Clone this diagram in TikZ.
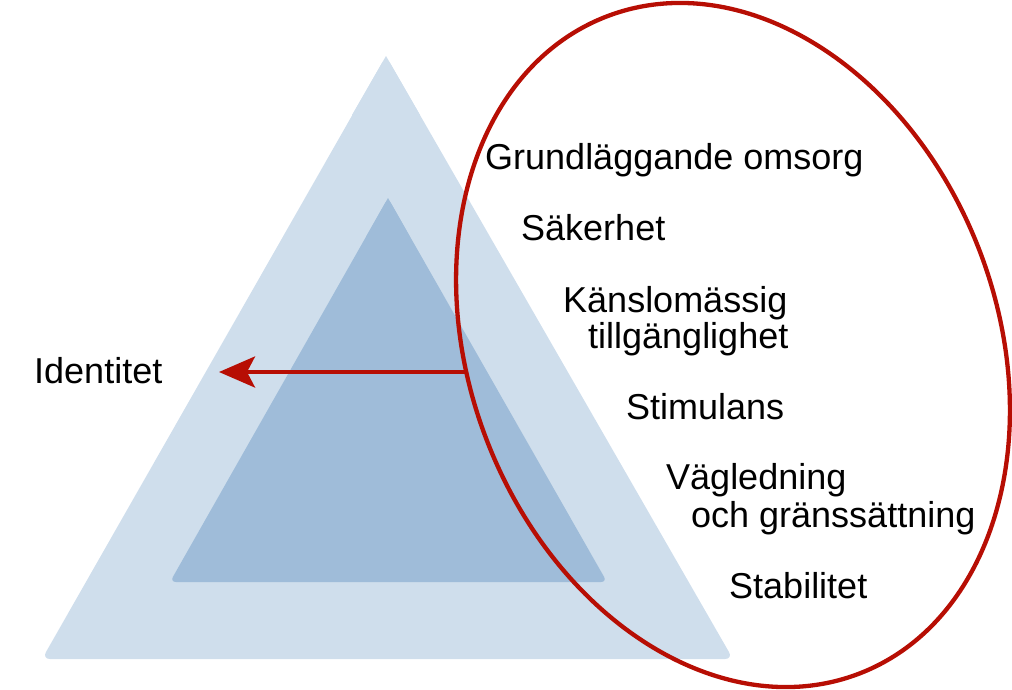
\documentclass[tikz,border=0pt]{standalone}
\usepackage{fontspec}
\setmainfont{Liberation Sans}
\usetikzlibrary{arrows.meta}
\definecolor{outerblue}{RGB}{207,222,236}
\definecolor{innerblue}{RGB}{159,188,217}
\definecolor{darkred}{RGB}{183,14,4}
\tikzset{
  lbl/.style={anchor=base west, inner sep=0pt, font=\fontsize{36}{43}\selectfont},
  ring/.style={draw=darkred, line width=4.3pt},
  pointer/.style={draw=darkred, line width=4pt, -{Stealth[length=36pt, width=31pt, inset=8pt]}},
}
\begin{document}
\begin{tikzpicture}[x=1pt, y=1pt]
\useasboundingbox (0,0) rectangle (1012,-689);
% outer triangle
\fill[outerblue, rounded corners=8pt] (386,-56) -- (733,-659) -- (42,-659) -- cycle;
\fill[outerblue] (386,-56) -- (420,-115) -- (352,-115) -- cycle;
% inner triangle
\fill[innerblue, rounded corners=6pt] (388,-198) -- (607,-582) -- (170,-582) -- cycle;
\fill[innerblue] (388,-198) -- (410,-237) -- (366,-237) -- cycle;
% ellipse
\draw[ring, rotate around={21:(733,-345)}] (733,-345) ellipse[x radius=264, y radius=352];
% arrow
\coordinate (start) at (467,-372);
\coordinate (tip) at (219,-372);
\draw[pointer] (start) -- (tip);
% labels
\node[lbl] (id) at (34,-383) {Identitet};
\node[lbl] (g) at (485,-169) {Grundläggande omsorg};
\node[lbl] (s) at (521,-240) {Säkerhet};
\node[lbl] (k1) at (563,-312) {Känslomässig};
\node[lbl] (k2) at (588,-348) {tillgänglighet};
\node[lbl] (st) at (626,-419) {Stimulans};
\node[lbl] (v1) at (666,-489) {Vägledning};
\node[lbl] (v2) at (691,-527) {och gränssättning};
\node[lbl] (sb) at (729,-598) {Stabilitet};
\end{tikzpicture}
\end{document}
